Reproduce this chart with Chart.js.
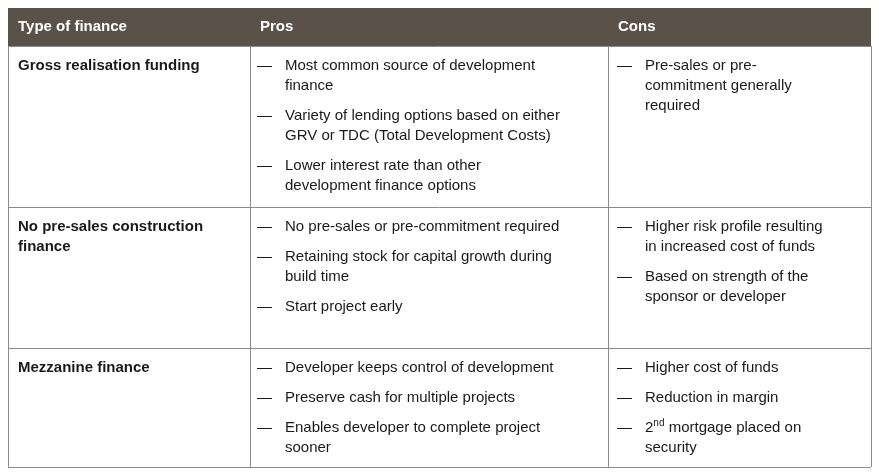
<!DOCTYPE html>
<html>
<head>
<meta charset="utf-8">
<script src="https://cdn.jsdelivr.net/npm/chart.js@4"></script>
<style>body{margin:0;background:#fff}</style>
</head>
<body>
<canvas id="myChart" width="879" height="476"></canvas>
<script>
var headers = ['Type of finance', 'Pros', 'Cons'];
var rowLabels = [['Gross realisation funding'], ['No pre-sales construction', 'finance'], ['Mezzanine finance']];
var pros = [
    [['Most common source of development', 'finance'], ['Variety of lending options based on either', 'GRV or TDC (Total Development Costs)'], ['Lower interest rate than other', 'development finance options']],
    [['No pre-sales or pre-commitment required'], ['Retaining stock for capital growth during', 'build time'], ['Start project early']],
    [['Developer keeps control of development'], ['Preserve cash for multiple projects'], ['Enables developer to complete project', 'sooner']]
];
var cons = [
    [['Pre-sales or pre-', 'commitment generally', 'required']],
    [['Higher risk profile resulting', 'in increased cost of funds'], ['Based on strength of the', 'sponsor or developer']],
    [['Higher cost of funds'], ['Reduction in margin'], ['2^nd mortgage placed on', 'security']]
];

var colX = [8, 250, 608, 871];
var rowY = [8, 46, 207, 348, 467];

var tablePlugin = {
    id: 'table',
    afterDraw: function (chart) {
        var c = chart.ctx;
        c.save();
        c.fillStyle = '#5a5249';
        c.fillRect(colX[0], rowY[0], colX[3] - colX[0], rowY[1] - rowY[0]);
        c.textBaseline = 'middle';
        c.font = 'bold 15px "Liberation Sans", Arial';
        c.fillStyle = '#ffffff';
        headers.forEach(function (h, i) { c.fillText(h, colX[i] + 10, 27); });

        c.strokeStyle = '#8c8c8c';
        c.lineWidth = 1;
        c.beginPath();
        for (var r = 1; r < rowY.length; r++) { c.moveTo(colX[0], rowY[r] + 0.5); c.lineTo(colX[3], rowY[r] + 0.5); }
        for (var k = 0; k < colX.length; k++) { c.moveTo(colX[k] + 0.5, rowY[1]); c.lineTo(colX[k] + 0.5, rowY[4]); }
        c.stroke();

        function line(t, x, y) {
            var p = t.indexOf('^');
            if (p < 0) { c.fillText(t, x, y); return; }
            var sp = t.indexOf(' ', p);
            var base = t.slice(0, p), sup = t.slice(p + 1, sp), rest = t.slice(sp);
            c.fillText(base, x, y); x += c.measureText(base).width;
            c.font = '10px "Liberation Sans", Arial';
            c.fillText(sup, x, y - 5); x += c.measureText(sup).width;
            c.font = '15px "Liberation Sans", Arial';
            c.fillText(rest, x, y);
        }
        function items(list, x, y0) {
            var y = y0;
            list.forEach(function (it) {
                c.fillText('\u2014', x, y);
                it.forEach(function (t) { line(t, x + 28, y); y += 20; });
                y += 10;
            });
        }
        c.fillStyle = '#1a1a1a';
        for (var i = 0; i < 3; i++) {
            var y0 = rowY[i + 1] + 20;
            c.font = 'bold 15px "Liberation Sans", Arial';
            rowLabels[i].forEach(function (t, j) { c.fillText(t, 18, y0 + j * 20); });
            c.font = '15px "Liberation Sans", Arial';
            items(pros[i], 257, y0);
            items(cons[i], 617, y0);
        }
        c.restore();
    }
};

new Chart(document.getElementById('myChart').getContext('2d'), {
    type: 'bar',
    data: { labels: [], datasets: [] },
    options: {
        responsive: false,
        animation: false,
        devicePixelRatio: 1,
        plugins: { legend: { display: false }, tooltip: { enabled: false } },
        scales: { x: { display: false }, y: { display: false } }
    },
    plugins: [tablePlugin]
});
</script>
</body>
</html>
